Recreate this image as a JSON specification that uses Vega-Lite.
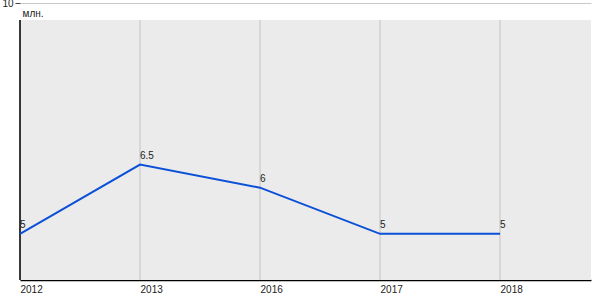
{
  "$schema": "https://vega.github.io/schema/vega-lite/v6.json",
  "width": 571,
  "height": 277,
  "autosize": {"type": "none"},
  "padding": {"left": 20, "top": 3, "right": 9, "bottom": 20},
  "background": "white",
  "config": {"view": {"stroke": null}, "font": "Liberation Sans"},
  "data": {
    "values": [
      {"year": "2012", "idx": 0, "value": 5, "label": "5"},
      {"year": "2013", "idx": 1, "value": 6.5, "label": "6.5"},
      {"year": "2016", "idx": 2, "value": 6, "label": "6"},
      {"year": "2017", "idx": 3, "value": 5, "label": "5"},
      {"year": "2018", "idx": 4, "value": 5, "label": "5"}
    ]
  },
  "layer": [
    {
      "data": {"values": [{"x0": 0, "x1": 4.758, "y0": 4, "y1": 9.632}]},
      "mark": {"type": "rect", "color": "#ebebeb"},
      "encoding": {
        "x": {
          "field": "x0", "type": "quantitative",
          "scale": {"domain": [0, 4.758], "nice": false, "zero": false},
          "axis": {
            "values": [0, 1, 2, 3, 4],
            "labelExpr": "['2012','2013','2016','2017','2018'][datum.value]",
            "domainColor": "black", "domainWidth": 1.5,
            "ticks": false, "grid": false,
            "labelAlign": "left", "labelPadding": 4, "labelFontSize": 10,
            "labelColor": "#222", "title": null
          }
        },
        "x2": {"field": "x1"},
        "y": {
          "field": "y0", "type": "quantitative",
          "scale": {"domain": [4, 10], "nice": false, "zero": false},
          "axis": {
            "values": [10], "grid": true, "gridColor": "#c8c8c8",
            "domain": false, "ticks": true, "tickColor": "#444", "tickSize": 5,
            "labelFontSize": 10, "labelColor": "#222", "labelPadding": 2,
            "title": "млн.", "titleAngle": 0, "titleX": 2, "titleY": 10,
            "titleAlign": "left", "titleBaseline": "middle",
            "titleFontWeight": "normal", "titleFontSize": 10, "titleColor": "#222"
          }
        },
        "y2": {"field": "y1"}
      }
    },
    {
      "mark": {"type": "rule", "color": "#c4c4c4", "strokeWidth": 1},
      "encoding": {
        "x": {"field": "idx", "type": "quantitative"},
        "y": {"datum": 4},
        "y2": {"datum": 9.632}
      }
    },
    {
      "data": {"values": [{"x": 0, "y0": 4, "y1": 9.632}]},
      "mark": {"type": "rule", "color": "black", "strokeWidth": 1.5},
      "encoding": {
        "x": {"field": "x", "type": "quantitative"},
        "y": {"field": "y0", "type": "quantitative"},
        "y2": {"field": "y1"}
      }
    },
    {
      "mark": {"type": "line", "color": "#0a50d8", "strokeWidth": 2},
      "encoding": {
        "x": {"field": "idx", "type": "quantitative"},
        "y": {"field": "value", "type": "quantitative"}
      }
    },
    {
      "mark": {"type": "text", "align": "left", "baseline": "bottom", "dy": -4, "fontSize": 10, "color": "#222"},
      "encoding": {
        "x": {"field": "idx", "type": "quantitative"},
        "y": {"field": "value", "type": "quantitative"},
        "text": {"field": "label"}
      }
    }
  ]
}
